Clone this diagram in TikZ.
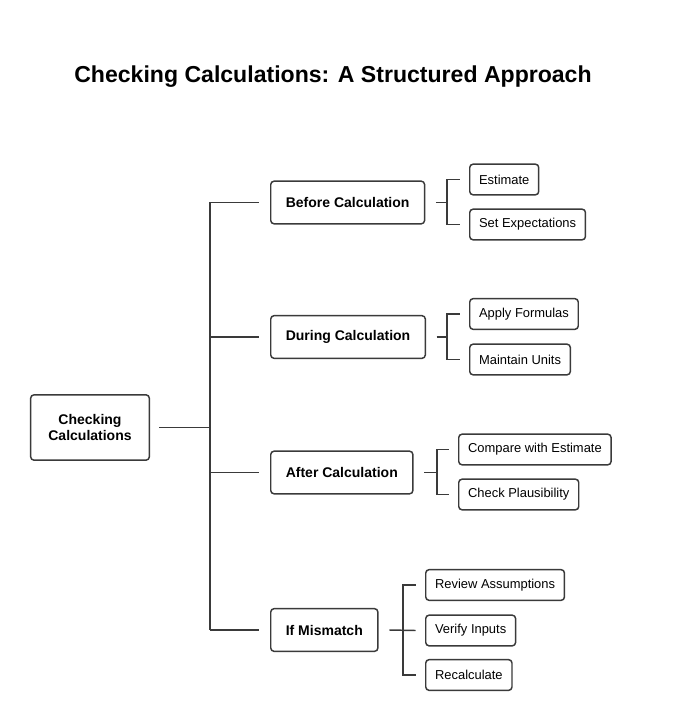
\documentclass[tikz,border=0pt]{standalone}
\usepackage{fontspec}
\setmainfont{Liberation Sans}
\definecolor{inkgray}{HTML}{3A3A3A}
\def\lnk{\draw[link]}

\begin{document}
\begin{tikzpicture}[x=0.75pt,y=-0.75pt,
    link/.style={inkgray,line width=1.1pt},
    box/.style={draw=inkgray,line width=1.1pt,rounded corners=2.5pt,fill=white},
    rootbox/.style={box,font=\bfseries\fontsize{10.5}{12.5}\selectfont,align=center,minimum width=89pt,minimum height=49pt},
    mainbox/.style={box,anchor=west,font=\bfseries\fontsize{10.5}{12.5}\selectfont,inner xsep=11.3pt,minimum height=32pt},
    subbox/.style={box,anchor=west,font=\fontsize{9.7}{11}\selectfont,inner xsep=7pt,minimum height=23pt}]
    \useasboundingbox (0,0) rectangle (678,702);
    \node[font=\bfseries\fontsize{17.3}{20}\selectfont] (title) at (333,76.5) {Checking Calculations: A Structured Approach};
    % root and main steps
    \node[rootbox] (root) at (90,427.5) {Checking\\Calculations};
    \node[mainbox] (before)   at (270,202.5) {Before Calculation};
    \node[mainbox] (during)   at (270,337)   {During Calculation};
    \node[mainbox] (after)    at (270,472.5) {After Calculation};
    \node[mainbox] (mismatch) at (270,630)   {If Mismatch};
    % leaves
    \node[subbox] (estimate) at (469,179.5) {Estimate};
    \node[subbox] (expect)   at (469,224.5) {Set Expectations};
    \node[subbox] (formulas) at (469,314)   {Apply Formulas};
    \node[subbox] (units)    at (469,359.5) {Maintain Units};
    \node[subbox] (compare)  at (458,449.5) {Compare with Estimate};
    \node[subbox] (plaus)    at (458,494.5) {Check Plausibility};
    \node[subbox] (review)   at (425,585)   {Review Assumptions};
    \node[subbox] (verify)   at (425,630.5) {Verify Inputs};
    \node[subbox] (recalc)   at (425,675)   {Recalculate};
    % forks
    \coordinate (trunk) at (210,0);
    \coordinate (f1) at (447,0);
    \coordinate (f2) at (447,0);
    \coordinate (f3) at (437,0);
    \coordinate (f4) at (403,0);
    \lnk ([xshift=7]root.east) -- (root.east -| trunk);
    \lnk (before.west -| trunk) -- (mismatch.west -| trunk);
    \lnk (before.west -| trunk)   -- ([xshift=-8]before.west);
    \lnk (during.west -| trunk)   -- ([xshift=-8]during.west);
    \lnk (after.west -| trunk)    -- ([xshift=-8]after.west);
    \lnk (mismatch.west -| trunk) -- ([xshift=-8]mismatch.west);
    \lnk ([xshift=8]before.east) -- (before.east -| f1);
    \lnk ([xshift=-7]estimate.west) -| (f1 |- expect.west) -- ([xshift=-7]expect.west);
    \lnk ([xshift=8]during.east) -- (during.east -| f2);
    \lnk ([xshift=-7]formulas.west) -| (f2 |- units.west) -- ([xshift=-7]units.west);
    \lnk ([xshift=8]after.east) -- (after.east -| f3);
    \lnk ([xshift=-7]compare.west) -| (f3 |- plaus.west) -- ([xshift=-7]plaus.west);
    \lnk ([xshift=8]mismatch.east) -- ([xshift=-7]verify.west);
    \lnk ([xshift=-7]review.west) -| (f4 |- recalc.west) -- ([xshift=-7]recalc.west);
\end{tikzpicture}
\end{document}
